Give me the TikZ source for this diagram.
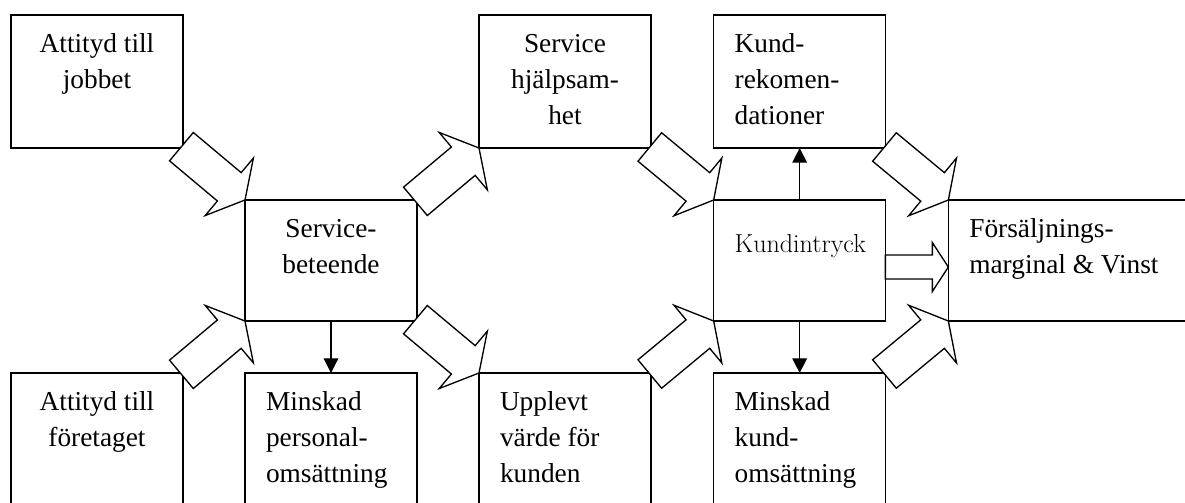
\documentclass[tikz,border=0pt]{standalone}
\usepackage{fontspec}
\newfontfamily\cajafont{Liberation Serif}
\usetikzlibrary{arrows.meta, positioning}

\begin{document}
\begin{tikzpicture}[
  x=0.75pt, y=-0.75pt,
  caja/.style={
    rectangle, draw=black, fill=white, line width=1pt, outer sep=0pt,
    font=\cajafont\fontsize{20.5pt}{27pt}\selectfont,
    text width=97.5pt, inner xsep=15.75pt, inner ysep=0pt,
    text height=28pt, text depth=71.75pt
  },
  cajamedia/.style={caja, text depth=62.75pt},
  arr/.style={-{Triangle[length=11pt, width=11pt]}, line width=0.9pt},
  flechagrande/.pic={
    \draw[fill=white, line width=1pt]
      (0,0) -- (-20.5,-37.5) -- (-20.5,-18.5) -- (-83,-18.5)
      -- (-83,18.5) -- (-20.5,18.5) -- (-20.5,37.5) -- cycle;
  },
  flechachica/.pic={
    \draw[fill=white, line width=1pt]
      (0,0) -- (-16,-24.5) -- (-16,-12) -- (-63,-12)
      -- (-63,12) -- (-16,12) -- (-16,24.5) -- cycle;
  }
]
  \useasboundingbox (0,0) rectangle (1185,503);
  \clip (0,0) rectangle (1185,503);

  \node[caja, align=flush center, anchor=north west] (jobbet) at (11,15)
    {Attityd till\\jobbet};
  \node[cajamedia, align=flush center, below right=39pt and 46.5pt of jobbet] (beh)
    {Service-\\beteende};
  \node[caja, align=flush center, below left=39pt and 46.5pt of beh] (foretag)
    {Attityd till\\företaget};
  \node[caja, align=flush left, below=39pt of beh] (personal)
    {Minskad\\personal-\\omsättning};
  \node[caja, align=flush center, above right=39pt and 46.5pt of beh] (hjalp)
    {Service\\hjälpsam-\\het};
  \node[caja, align=flush left, below right=39pt and 46.5pt of beh] (upplevt)
    {Upplevt\\värde för\\kunden};
  \node[cajamedia, align=flush center, text height=39pt, text depth=51.75pt,
        font=\rmfamily\fontsize{19.5pt}{23pt}\selectfont,
        below right=39pt and 47pt of hjalp] (intryck) {Kundintryck};
  \node[caja, align=flush left, above=39pt of intryck] (rekom)
    {Kund-\\rekomen-\\dationer};
  \node[caja, align=flush left, below=39pt of intryck] (kundoms)
    {Minskad\\kund-\\omsättning};
  \node[cajamedia, align=flush left, text width=163.5pt, right=47pt of intryck] (forsalj)
    {Försäljnings-\\marginal \& Vinst};

  \draw[arr] (beh) -- (personal);
  \draw[arr] (intryck) -- (rekom);
  \draw[arr] (intryck) -- (kundoms);

  \path (jobbet.south east) -- (beh.north west) pic[pos=1, sloped]{flechagrande};
  \path (foretag.north east) -- (beh.south west) pic[pos=1, sloped]{flechagrande};
  \path (beh.north east) -- (hjalp.south west) pic[pos=1, sloped]{flechagrande};
  \path (beh.south east) -- (upplevt.north west) pic[pos=1, sloped]{flechagrande};
  \path (hjalp.south east) -- (intryck.north west) pic[pos=1, sloped]{flechagrande};
  \path (upplevt.north east) -- (intryck.south west) pic[pos=1, sloped]{flechagrande};
  \path (rekom.south east) -- (forsalj.north west) pic[pos=1, sloped]{flechagrande};
  \path (kundoms.north east) -- (forsalj.south west) pic[pos=1, sloped]{flechagrande};
  \path ([yshift=-4.9pt]intryck.east) -- ([yshift=-4.9pt]forsalj.west)
    pic[pos=1, sloped]{flechachica};
\end{tikzpicture}
\end{document}
